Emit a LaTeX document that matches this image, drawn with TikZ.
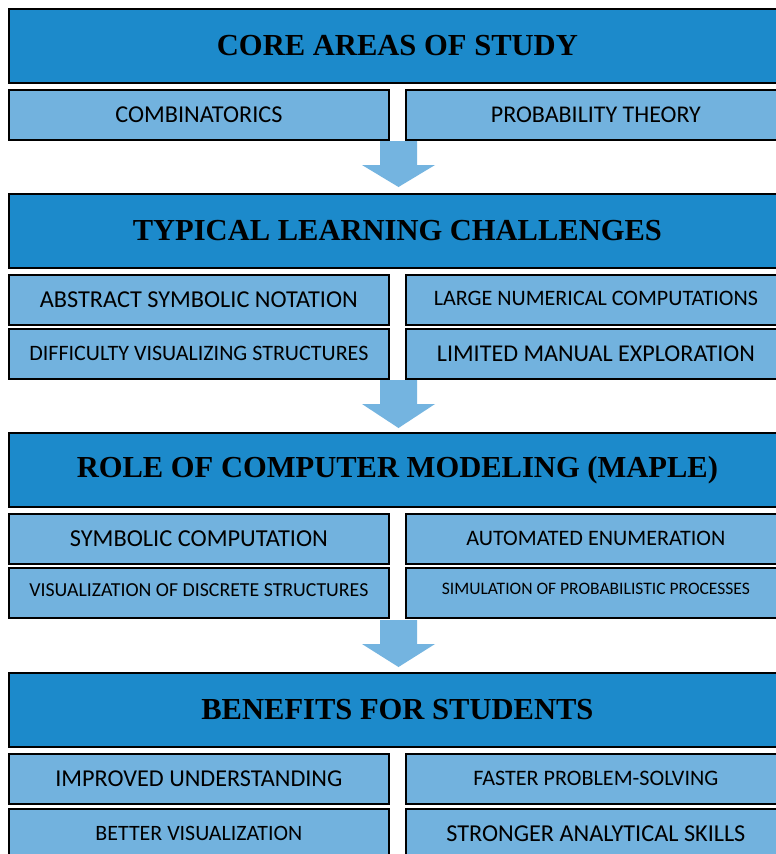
\documentclass[tikz,border=0pt]{standalone}
\usepackage{fontspec}
\usepackage{graphicx}
\newfontfamily\headfont{Liberation Serif}[BoldFont={Liberation Serif Bold}]
\newfontfamily\subfont{Carlito}
\definecolor{hdrblue}{HTML}{1C8ACB}
\definecolor{subblue}{HTML}{72B2DE}
\definecolor{arrowblue}{HTML}{74B4E0}
\newcommand\fw[2]{\resizebox{#1pt}{!}{#2}}
\newcommand\hd[2]{\resizebox{#1pt}{!}{\headfont\bfseries #2}}
\newcommand\blockarr[2]{%
  \fill[arrowblue] (380,#1) -- (417,#1) -- (417,#1+24) -- (435,#1+24) -- (398.5,#2) -- (362,#1+24) -- (380,#1+24) -- cycle;}
\begin{document}
\begin{tikzpicture}[x=1pt,y=-1pt,
  hdr/.style={draw=black, line width=1.8pt, fill=hdrblue, minimum width=777pt, minimum height=74pt, anchor=north west, inner sep=0pt},
  sub/.style={draw=black, line width=1.8pt, fill=subblue, minimum width=380pt, minimum height=50pt, anchor=north west, inner sep=0pt, font=\subfont}]
\useasboundingbox (0,0) rectangle (776,854);
\clip (0,0) rectangle (776,854);
\fill[white] (0,0) rectangle (776,854);
% section 1
\node[hdr] (h1) at (8,8) {\hd{361}{CORE AREAS OF STUDY}};
\node[sub] (a1) at (8,89) {\fw{167}{COMBINATORICS}};
\node[sub] (a2) at (405,89) {\fw{210}{PROBABILITY THEORY}};
\blockarr{141}{187}
% section 2
\node[hdr] (h2) at (8,193) {\hd{529}{TYPICAL LEARNING CHALLENGES}};
\node[sub] (b1) at (8,274) {\fw{318}{ABSTRACT SYMBOLIC NOTATION}};
\node[sub] (b2) at (405,274) {\raisebox{3pt}{\fw{324}{LARGE NUMERICAL COMPUTATIONS}}};
\node[sub] (b3) at (8,328) {\fw{339}{DIFFICULTY VISUALIZING STRUCTURES}};
\node[sub] (b4) at (405,328) {\fw{318}{LIMITED MANUAL EXPLORATION}};
\blockarr{380}{428}
% section 3
\node[hdr] (h3) at (8,432) {\hd{641}{ROLE OF COMPUTER MODELING (MAPLE)}};
\node[sub] (c1) at (8,513) {\fw{258}{SYMBOLIC COMPUTATION}};
\node[sub] (c2) at (405,513) {\raisebox{2pt}{\fw{259}{AUTOMATED ENUMERATION}}};
\node[sub] (c3) at (8,567) {\raisebox{6pt}{\fw{339}{VISUALIZATION OF DISCRETE STRUCTURES}}};
\node[sub] (c4) at (405,567) {\raisebox{8pt}{\fw{308}{SIMULATION OF PROBABILISTIC PROCESSES}}};
\blockarr{620}{667}
% section 4
\node[hdr] (h4) at (8,672) {\hd{392}{BENEFITS FOR STUDENTS}};
\node[sub] (d1) at (8,753) {\fw{287}{IMPROVED UNDERSTANDING}};
\node[sub] (d2) at (405,753) {\raisebox{2pt}{\fw{245}{FASTER PROBLEM-SOLVING}}};
\node[sub] (d3) at (8,808) {\fw{207}{BETTER VISUALIZATION}};
\node[sub] (d4) at (405,808) {\fw{299}{STRONGER ANALYTICAL SKILLS}};
\end{tikzpicture}
\end{document}
